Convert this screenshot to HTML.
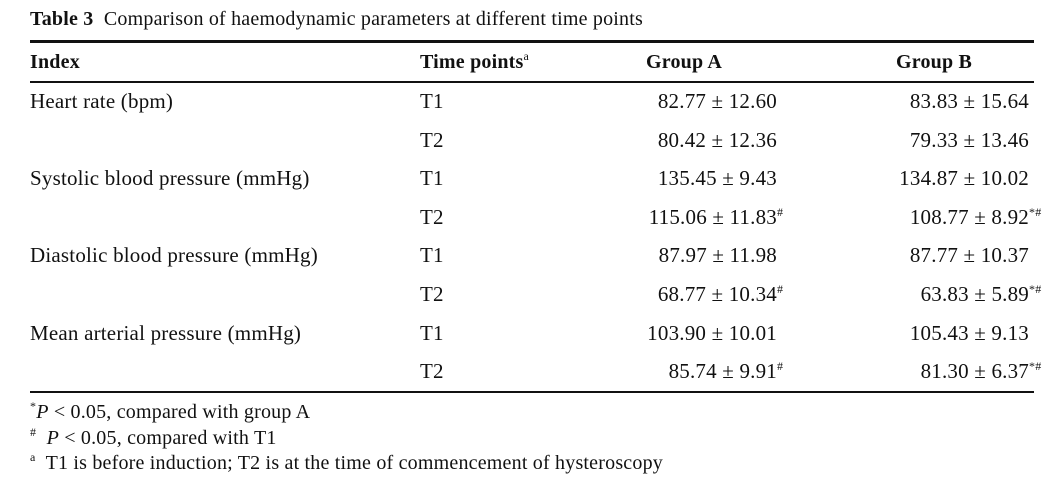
<!DOCTYPE html>
<html><head><meta charset="utf-8"><style>
body{margin:0;background:#fff;width:1055px;height:483px;position:relative;overflow:hidden;font-family:"Liberation Serif",serif;color:#111;font-size:21px;letter-spacing:0.2px}
.t{position:absolute;white-space:nowrap;line-height:22px}
.hr{position:absolute;left:30px;width:1004px;background:#111}
sup{font-size:12px;position:relative;top:-8px;vertical-align:baseline;line-height:0}
.s{position:absolute;left:100%;top:-5px;font-size:12px}
</style></head><body>
<div class="t" style="left:30px;top:8px;font-size:20px"><b>Table 3</b>&nbsp; Comparison of haemodynamic parameters at different time points</div>
<div class="hr" style="top:40px;height:3px"></div>
<div class="t" style="left:30px;top:51px;font-size:20px"><b>Index</b></div>
<div class="t" style="left:420px;top:51px;font-size:20px"><b>Time points</b><sup>a</sup></div>
<div class="t" style="left:646px;top:51px;font-size:20px"><b>Group A</b></div>
<div class="t" style="left:896px;top:51px;font-size:20px"><b>Group B</b></div>
<div class="hr" style="top:81px;height:2px"></div>
<div id="rows"></div>
<div class="hr" style="top:391px;height:2px"></div>
<div class="t" style="left:30px;top:401px;font-size:20px"><sup>*</sup><i>P</i> &lt; 0.05, compared with group A</div>
<div class="t" style="left:30px;top:427px;font-size:20px"><sup>#</sup>&nbsp; <i>P</i> &lt; 0.05, compared with T1</div>
<div class="t" style="left:30px;top:452px;font-size:20px"><sup>a</sup>&nbsp; T1 is before induction; T2 is at the time of commencement of hysteroscopy</div>
<script>
const labels=["Heart rate (bpm)","","Systolic blood pressure (mmHg)","","Diastolic blood pressure (mmHg)","","Mean arterial pressure (mmHg)",""];
const times=["T1","T2","T1","T2","T1","T2","T1","T2"];
const groupA=["82.77 ± 12.60","80.42 ± 12.36","135.45 ± 9.43","115.06 ± 11.83","87.97 ± 11.98","68.77 ± 10.34","103.90 ± 10.01","85.74 ± 9.91"];
const supA=["","","","#","","#","","#"];
const groupB=["83.83 ± 15.64","79.33 ± 13.46","134.87 ± 10.02","108.77 ± 8.92","87.77 ± 10.37","63.83 ± 5.89","105.43 ± 9.13","81.30 ± 6.37"];
const supB=["","","","*#","","*#","","*#"];
const host=document.getElementById('rows');
function cell(txt,left,top,right,sup){
  const d=document.createElement('div');
  d.className='t';
  d.textContent=txt;
  if(right){d.style.right=(1055-left)+'px';}else{d.style.left=left+'px';}
  d.style.top=top+'px';
  if(sup){const s=document.createElement('span');s.className='s';s.textContent=sup;d.appendChild(s);}
  host.appendChild(d);
  return d;
}
for(let i=0;i<times.length;i++){
  const top=90+i*38.6;
  if(labels[i]){const a=cell(labels[i],30,top,false);
    
    }
  const b=cell(times[i],420,top,false);
  
  
  const c=cell(groupA[i],777,top,true,supA[i]);
  
  
  const d=cell(groupB[i],1029,top,true,supB[i]);
  
  
}
</script>
</body></html>
